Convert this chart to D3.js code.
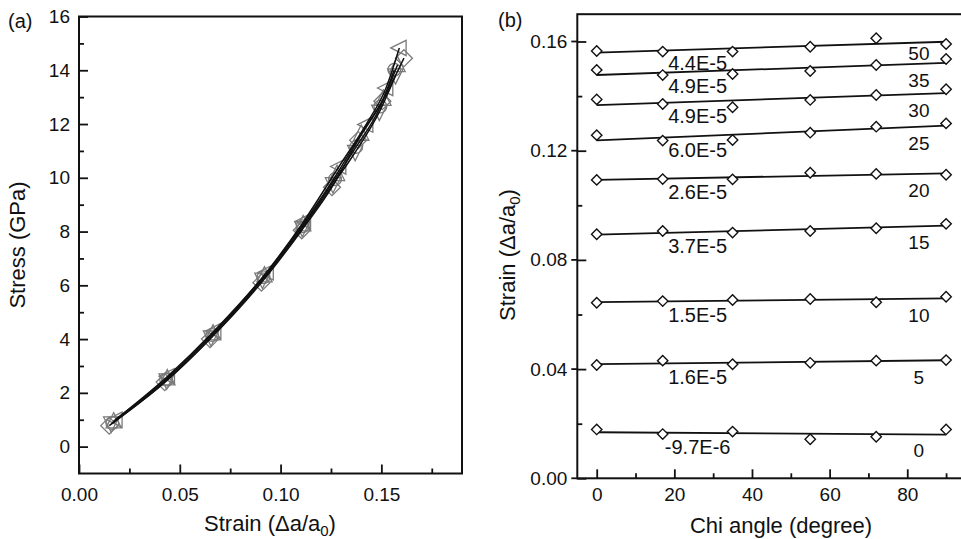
<!DOCTYPE html>
<html><head><meta charset="utf-8">
<script src="https://cdn.jsdelivr.net/npm/d3@7"></script>
<style>body{margin:0;background:#fff} text{font-family:"Liberation Sans",Arial,sans-serif;fill:#111}</style>
</head><body><svg id="c" width="961" height="539"></svg>
<script>
// ---------- Panel (a) data : Stress vs Strain ----------
const aSeriesShapes = ["diamond", "triangleLeft", "circle", "triangleDown", "triangleUp"];
const aStrainDiamond = [0.0150,0.0425,0.0650,0.0905,0.1105,0.1255,0.1385,0.1505,0.1612];
const aStressDiamond = [0.78,2.40,4.00,6.10,8.05,9.65,11.40,12.85,14.45];
const aStrainTriLeft = [0.0180,0.0440,0.0670,0.0930,0.1115,0.1290,0.1424,0.1523,0.1589];
const aStressTriLeft = [1.00,2.62,4.30,6.48,8.38,10.42,11.98,13.34,14.83];
const aStrainCircle = [0.0165,0.0432,0.0660,0.0915,0.1110,0.1270,0.1375,0.1495,0.1564];
const aStressCircle = [0.88,2.50,4.15,6.30,8.20,9.95,11.15,12.65,14.02];
const aStrainTriDown = [0.0160,0.0435,0.0655,0.0910,0.1108,0.1260,0.1370,0.1490,0.1570];
const aStressTriDown = [0.85,2.45,4.05,6.20,8.12,9.75,10.95,12.45,13.80];
const aStrainTriUp = [0.0172,0.0438,0.0665,0.0920,0.1112,0.1280,0.1400,0.1510,0.1580];
const aStressTriUp = [0.95,2.55,4.22,6.38,8.28,10.15,11.65,12.95,14.20];
const aXTicks = [0, 0.05, 0.10, 0.15];
const aXMinor = [0.025, 0.075, 0.125, 0.175];
const aYTicks = [0,2,4,6,8,10,12,14,16];
const aYMinor = [1,3,5,7,9,11,13,15];

// ---------- Panel (b) data : Strain vs Chi angle ----------
const chiAngles = [0,17,35,55,72,90];
const pressureLabels = ["0","5","10","15","20","25","30","35","50"];
const slopeLabels = ["-9.7E-6","1.6E-5","1.5E-5","3.7E-5","2.6E-5","6.0E-5","4.9E-5","4.9E-5","4.4E-5"];
const strainP0  = [0.0179,0.0162,0.0171,0.0143,0.0152,0.0179];
const strainP5  = [0.0415,0.0431,0.0418,0.0423,0.0431,0.0433];
const strainP10 = [0.0643,0.0649,0.0653,0.0657,0.0645,0.0665];
const strainP15 = [0.0894,0.0906,0.0900,0.0906,0.0916,0.0932];
const strainP20 = [0.1093,0.1096,0.1095,0.1119,0.1115,0.1112];
const strainP25 = [0.1257,0.1237,0.1239,0.1266,0.1288,0.1300];
const strainP30 = [0.1388,0.1371,0.1359,0.1386,0.1404,0.1425];
const strainP35 = [0.1496,0.1477,0.1481,0.1492,0.1514,0.1536];
const strainP50 = [0.1565,0.1563,0.1563,0.1581,0.1612,0.1591];
const bXTicks = [0,20,40,60,80];
const bXMinor = [10,30,50,70,90];
const bYTicks = [0,0.04,0.08,0.12,0.16];
const bYMinor = [0.02,0.06,0.10,0.14];

const svg = d3.select("#c");

function shapePath(shape, r) {
  const p = d3.path();
  if (shape === "diamond") { p.moveTo(0,-r); p.lineTo(r,0); p.lineTo(0,r); p.lineTo(-r,0); p.closePath(); }
  else if (shape === "triangleLeft") { p.moveTo(-r,0); p.lineTo(r*0.8,-r*0.9); p.lineTo(r*0.8,r*0.9); p.closePath(); }
  else if (shape === "triangleUp") { p.moveTo(0,-r); p.lineTo(r*0.9,r*0.8); p.lineTo(-r*0.9,r*0.8); p.closePath(); }
  else if (shape === "triangleDown") { p.moveTo(0,r); p.lineTo(r*0.9,-r*0.8); p.lineTo(-r*0.9,-r*0.8); p.closePath(); }
  else { p.arc(0,0,r*0.75,0,2*Math.PI); }
  return p.toString();
}

// ================= Panel (a) =================
const ax = d3.scaleLinear().domain([0, 0.19]).range([79, 462]);
const ay = d3.scaleLinear().domain([-1, 16]).range([473.5, 16.5]);
const ga = svg.append("g");

const aSeries = [
  {shape:"diamond", xs:aStrainDiamond, ys:aStressDiamond},
  {shape:"triangleLeft", xs:aStrainTriLeft, ys:aStressTriLeft},
  {shape:"circle", xs:aStrainCircle, ys:aStressCircle},
  {shape:"triangleDown", xs:aStrainTriDown, ys:aStressTriDown},
  {shape:"triangleUp", xs:aStrainTriUp, ys:aStressTriUp}
];
const aLine = d3.line().x(d=>ax(d[0])).y(d=>ay(d[1])).curve(d3.curveMonotoneX);
aSeries.forEach(s => {
  s.xs.forEach((x,i) => {
    ga.append("path").attr("d", shapePath(s.shape, 8.5))
      .attr("transform", `translate(${ax(x)},${ay(s.ys[i])})`)
      .attr("fill","none").attr("stroke","#7a7a7a").attr("stroke-width",1.3);
  });
});
aSeries.forEach(s => {
  const pts = s.xs.map((x,i)=>[x, s.ys[i]]);
  ga.append("path").attr("d", aLine(pts)).attr("fill","none").attr("stroke","#111").attr("stroke-width",1.5);
});

// frame & ticks (a)
ga.append("rect").attr("x", ax(0)).attr("y", ay(16)).attr("width", ax(0.19)-ax(0)).attr("height", ay(-1)-ay(16))
  .attr("fill","none").attr("stroke","#111").attr("stroke-width",2);
const axB = d3.axisBottom(ax).tickValues(aXTicks).tickSize(-9).tickFormat(d3.format(".2f")).tickPadding(14);
const gax = ga.append("g").attr("transform",`translate(0,${ay(-1)})`).call(axB);
const axBm = d3.axisBottom(ax).tickValues(aXMinor).tickSize(-5).tickFormat("");
const gaxm = ga.append("g").attr("transform",`translate(0,${ay(-1)})`).call(axBm);
const ayL = d3.axisLeft(ay).tickValues(aYTicks).tickSize(-9).tickFormat(d3.format("d")).tickPadding(9);
const gay = ga.append("g").attr("transform",`translate(${ax(0)},0)`).call(ayL);
const ayLm = d3.axisLeft(ay).tickValues(aYMinor).tickSize(-5).tickFormat("");
const gaym = ga.append("g").attr("transform",`translate(${ax(0)},0)`).call(ayLm);
[gax,gaxm,gay,gaym].forEach(g => {
  g.select(".domain").remove();
  g.selectAll(".tick line").attr("stroke","#111").attr("stroke-width",1.8);
  g.selectAll(".tick text").attr("font-size",19).attr("fill","#111").style("font-family",'"Liberation Sans",Arial,sans-serif');
});

// titles (a)
ga.append("text").attr("x",8).attr("y",28).attr("font-size",20).text("(a)");
ga.append("text").attr("transform","translate(25,245) rotate(-90)").attr("text-anchor","middle").attr("font-size",22)
  .text("Stress (GPa)");
const axt = ga.append("text").attr("x",270).attr("y",531).attr("text-anchor","middle").attr("font-size",22);
axt.append("tspan").text("Strain (\u0394a/a");
axt.append("tspan").attr("font-size",15).attr("dy",5).text("0");
axt.append("tspan").attr("dy",-5).text(")");

// ================= Panel (b) =================
const bx = d3.scaleLinear().domain([-5, 100]).range([577.3, 984.9]);
const by = d3.scaleLinear().domain([0, 0.17]).range([478.3, 14.2]);
const gb = svg.append("g");

const bSeries = [strainP0,strainP5,strainP10,strainP15,strainP20,strainP25,strainP30,strainP35,strainP50];
bSeries.forEach((vals, k) => {
  const slope = +slopeLabels[k];
  const mx = d3.mean(chiAngles), my = d3.mean(vals);
  const b0 = my - slope*mx;
  const f = x => b0 + slope*x;
  gb.append("line").attr("x1", bx(0)).attr("x2", bx(90)).attr("y1", by(f(0))).attr("y2", by(f(90)))
    .attr("stroke","#111").attr("stroke-width",1.8);
  vals.forEach((v,i) => {
    gb.append("path").attr("d", shapePath("diamond", 5.2))
      .attr("transform", `translate(${bx(chiAngles[i])},${by(v)})`)
      .attr("fill","#fff").attr("stroke","#111").attr("stroke-width",1.4);
  });
  gb.append("text").attr("x", bx(26)).attr("y", by(f(26)) + 21).attr("text-anchor","middle").attr("font-size",20)
    .text(slopeLabels[k]);
  const off = k === 8 ? 17 : 23;
  gb.append("text").attr("x", bx(83)).attr("y", by(f(83)) + off).attr("text-anchor","middle").attr("font-size",19)
    .text(pressureLabels[k]);
});

// frame & ticks (b)
gb.append("rect").attr("x", bx(-5)).attr("y", by(0.17)).attr("width", bx(100)-bx(-5)).attr("height", by(0)-by(0.17))
  .attr("fill","none").attr("stroke","#111").attr("stroke-width",2);
const bxB = d3.axisBottom(bx).tickValues(bXTicks).tickSizeInner(-9).tickSizeOuter(0).tickFormat(d3.format("d")).tickPadding(9);
const gbx = gb.append("g").attr("transform",`translate(0,${by(0)})`).call(bxB);
const bxBm = d3.axisBottom(bx).tickValues(bXMinor).tickSize(-5).tickFormat("");
const gbxm = gb.append("g").attr("transform",`translate(0,${by(0)})`).call(bxBm);
const byL = d3.axisLeft(by).tickValues(bYTicks).tickSize(-9).tickFormat(d3.format(".2f")).tickPadding(8);
const gby = gb.append("g").attr("transform",`translate(${bx(-5)},0)`).call(byL);
const byLm = d3.axisLeft(by).tickValues(bYMinor).tickSize(-5).tickFormat("");
const gbym = gb.append("g").attr("transform",`translate(${bx(-5)},0)`).call(byLm);
[gbx,gbxm,gby,gbym].forEach(g => {
  g.select(".domain").remove();
  g.selectAll(".tick line").attr("stroke","#111").attr("stroke-width",1.8);
  g.selectAll(".tick text").attr("font-size",19).attr("fill","#111").style("font-family",'"Liberation Sans",Arial,sans-serif');
});
// outward stubs for major y ticks
bYTicks.forEach(v => {
  gb.append("line").attr("x1", bx(-5)-6).attr("x2", bx(-5)).attr("y1", by(v)).attr("y2", by(v)).attr("stroke","#111").attr("stroke-width",1.8);
});
gby.selectAll(".tick text").attr("x", -10);

gb.append("text").attr("x",498).attr("y",27).attr("font-size",20).text("(b)");
const byt = gb.append("text").attr("transform","translate(515,255) rotate(-90)").attr("text-anchor","middle").attr("font-size",22);
byt.append("tspan").text("Strain  (\u0394a/a");
byt.append("tspan").attr("font-size",15).attr("dy",5).text("0");
byt.append("tspan").attr("dy",-5).text(")");
gb.append("text").attr("x",781).attr("y",533).attr("text-anchor","middle").attr("font-size",22).text("Chi angle (degree)");
</script></body></html>
